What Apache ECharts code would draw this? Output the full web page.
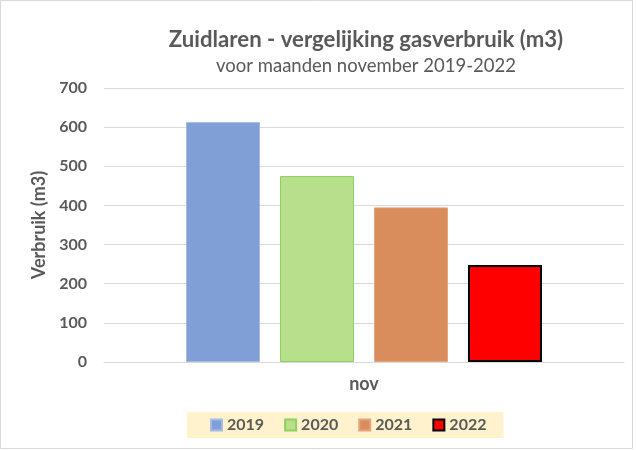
<!DOCTYPE html>
<html>
<head>
<meta charset="utf-8">
<script src="https://cdn.jsdelivr.net/npm/echarts@6/dist/echarts.min.js"></script>
<style>
  html, body { margin: 0; padding: 0; background: #fff; }
  #chart { width: 636px; height: 450px; }
</style>
</head>
<body>
<div id="chart"></div>
<script>
// data
const categories = ['nov'];
const years = ['2019', '2020', '2021', '2022'];
const values2019 = [613];
const values2020 = [475];
const values2021 = [395];
const values2022 = [248];
const yTicks = [0, 100, 200, 300, 400, 500, 600, 700];

const seriesValues = [values2019, values2020, values2021, values2022];
const fills = ['#809fd7', '#b8df8c', '#d98c5c', '#ff0000'];
const borders = ['#a4bbe4', '#8fd05f', '#e3a47c', '#000000'];
const borderWidths = [1, 1, 1, 2];

const txt = '#595959';
const font = 'Lato, "Open Sans", sans-serif';

const chart = echarts.init(document.getElementById('chart'));

const option = {
  backgroundColor: '#ffffff',
  textStyle: { fontFamily: font },
  animation: false,
  title: {
    text: 'Zuidlaren - vergelijking gasverbruik (m3)',
    subtext: 'voor maanden november 2019-2022',
    left: 361,
    textAlign: 'center',
    top: 24,
    itemGap: 6,
    textStyle: { fontSize: 22.2, fontWeight: 'bold', color: txt, fontFamily: font },
    subtextStyle: { fontSize: 18.5, color: txt, fontFamily: font }
  },
  graphic: [{
    type: 'rect',
    shape: { x: 0.5, y: 0.5, width: 632, height: 448 },
    style: { fill: 'none', stroke: '#d9d9d9', lineWidth: 1 },
    silent: true
  }],
  legend: {
    data: years,
    left: 187,
    top: 412,
    backgroundColor: '#fff2cc',
    padding: [5, 17, 5, 23],
    itemWidth: 11,
    itemHeight: 11,
    itemGap: 20,
    icon: 'rect',
    textStyle: { fontSize: 16, fontWeight: 'bold', color: txt, fontFamily: font }
  },
  grid: { left: 104, right: 12, top: 88, bottom: 88 },
  xAxis: {
    type: 'category',
    data: categories,
    axisLine: { lineStyle: { color: '#d9d9d9' } },
    axisTick: { show: false },
    axisLabel: { color: txt, fontSize: 18, fontWeight: 'bold', margin: 13, fontFamily: font }
  },
  yAxis: {
    type: 'value',
    min: 0,
    max: 700,
    interval: 100,
    name: 'Verbruik (m3)',
    nameLocation: 'middle',
    nameGap: 40,
    nameTextStyle: { color: txt, fontSize: 18, fontWeight: 'bold', fontFamily: font },
    axisLine: { show: false },
    axisTick: { show: false },
    splitLine: { lineStyle: { color: '#d9d9d9' } },
    axisLabel: {
      color: txt, fontSize: 16, fontWeight: 'bold', margin: 17, fontFamily: font,
      formatter: v => yTicks.includes(v) ? String(v) : ''
    }
  },
  series: years.map((y, i) => ({
    name: y,
    type: 'bar',
    data: seriesValues[i],
    barWidth: 74,
    barGap: '27%',
    itemStyle: {
      color: fills[i],
      borderColor: borders[i],
      borderWidth: borderWidths[i]
    }
  }))
};

chart.setOption(option);
</script>
</body>
</html>
